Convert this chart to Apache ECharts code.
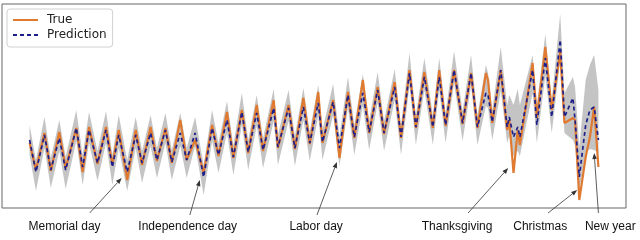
<!DOCTYPE html>
<html><head><meta charset="utf-8">
<script src="https://cdn.jsdelivr.net/npm/echarts@6/dist/echarts.min.js"></script>
<style>html,body{margin:0;padding:0;background:#fff}#c{width:640px;height:240px}</style>
</head><body><div id="c"></div>
<script>
// day index (0 = first day of the series) at each turning point
const days = [0,3,7,10,14,17,22,25,28,32, 36,39,42,46,50,53,57,60,64,67, 71,74,78,82,86,89,93,96,100,103, 107,110,115,117,122,125,129,132,136,138, 143,146,150,153,157,160,164,167,172,175, 179,182,186,190,193,196,200,204,208,211, 215,216,218,222,225,226,228,230,231,237, 239,243,246,250,252,256,257,259,262,264, 266,268];
const trueVals = [65,38,75,37,76,40,80,36,81,44, 81,43,78,28,78,43,81,47,80,45, 88,48,68,35,83,52,96,50,98,55, 103,57,108,60,103,59,110,64,116,65, 108,50,116,70,128,75,121,74,126,70, 138,80,136,80,138,82,138,84,135,80, 135,128,85,138,78,88,35,78,63,145, 90,161,98,156,85,90,88,8,51,71, 101,41];
const predVals = [68,36,73,38,70,38,80,41,78,45, 78,41,73,36,73,45,75,48,78,46, 75,48,75,31,80,53,88,51,96,56, 95,58,100,61,100,60,101,65,105,66, 106,60,113,71,115,76,118,75,121,71, 135,81,131,81,131,83,138,85,135,81, 115,113,86,138,81,91,71,81,71,138, 83,150,91,168,91,110,88,31,83,98, 101,68];
const bandHi = [83,48,91,50,88,51,98,53,96,57, 97,53,93,48,91,57,93,60,95,58, 95,60,91,43,98,65,107,63,115,68, 113,70,119,73,118,72,120,77,123,78, 124,72,131,83,134,88,136,87,139,83, 155,93,150,93,150,95,157,97,153,93, 143,135,98,161,103,113,103,119,103,153, 103,174,108,194,115,131,121,61,128,143, 153,118];
const bandLo = [53,17,60,20,57,19,67,23,65,27, 65,23,60,17,60,25,62,30,65,28, 62,30,62,13,67,35,75,33,83,38, 82,40,87,43,87,42,88,47,92,48, 93,42,100,53,102,58,105,57,108,53, 122,63,118,63,118,65,125,67,122,63, 102,100,68,117,65,72,52,57,52,115, 65,132,75,147,75,68,62,17,55,59, 58,55];
// holidays: label, day and value of the point the arrow marks
const holidayNames = ['Memorial day','Independence day','Labor day','Thanksgiving','Christmas','New year'];
const holidayDays = [43.4, 80.2, 144.8, 225.5, 258, 266];
const holidayVals = [30, 28, 46, 40, 18, 55];

const chart = echarts.init(document.getElementById('c'), null, {renderer:'canvas'});
chart.setOption({
  animation:false,
  backgroundColor:'#fff',
  grid:{left:2, right:14, top:4, bottom:32, show:true, borderColor:'#666', borderWidth:1, backgroundColor:'transparent'},
  xAxis:{type:'value', min:-13, max:281, show:false, splitLine:{show:false}},
  yAxis:{type:'value', min:0, max:204, show:false, splitLine:{show:false}},
  legend:{
    data:['True','Prediction'], orient:'vertical', left:7, top:9,
    itemWidth:25, itemHeight:14, itemGap:3, padding:[5,6,6,5],
    itemStyle:{opacity:0},
    backgroundColor:'rgba(255,255,255,0.9)', borderColor:'#d0d0d0', borderWidth:1, borderRadius:3,
    textStyle:{fontFamily:'DejaVu Sans', fontSize:12, color:'#222', padding:[0,0,0,4]}
  },
  series:[
    {type:'custom', name:'band', silent:true, z:1,
     data:[[days[0], bandLo[0]]], encode:{x:0,y:1},
     renderItem:function(params, api){
       const pts=[];
       for(let i=0;i<days.length;i++) pts.push(api.coord([days[i], bandHi[i]]));
       for(let i=days.length-1;i>=0;i--) pts.push(api.coord([days[i], bandLo[i]]));
       return {type:'polygon', shape:{points:pts}, style:{fill:'#c4c4c4'}};
     }},
    {type:'line', name:'True', z:2, symbol:'none', showSymbol:false,
     data:days.map((d,i)=>[d,trueVals[i]]),
     lineStyle:{color:'#e07a30', width:2.2}, itemStyle:{color:'#e07a30'}},
    {type:'line', name:'Prediction', z:3, symbol:'none', showSymbol:false,
     data:days.map((d,i)=>[d,predVals[i]]),
     lineStyle:{color:'#1e1e8a', width:1.7, type:[4,3]}, itemStyle:{color:'#1e1e8a'}}
  ]
});

// annotation layout: text centre (day, value) and arrow tail (day, value)
const textPos = [[16.5,-19],[74.5,-19],[135,-19],[201.4,-19],[240.6,-19],[273.6,-19]];
const tailPos = [[28.3,-5],[75.5,-7],[135.4,-7],[206.6,-5],[244.3,-5],[268,-5]];
const g=[];
holidayNames.forEach((name,i)=>{
  const tip = chart.convertToPixel({gridIndex:0},[holidayDays[i],holidayVals[i]]);
  const tail = chart.convertToPixel({gridIndex:0},tailPos[i]);
  const tp = chart.convertToPixel({gridIndex:0},textPos[i]);
  const dx=tip[0]-tail[0], dy=tip[1]-tail[1], L=Math.hypot(dx,dy);
  const ux=dx/L, uy=dy/L, nx=-uy, ny=ux;
  const bx=tip[0]-ux*6, by=tip[1]-uy*6;
  g.push({type:'line', silent:true, z:10, shape:{x1:tail[0],y1:tail[1],x2:bx,y2:by}, style:{stroke:'#333',lineWidth:0.8}});
  g.push({type:'polygon', silent:true, z:10, shape:{points:[[tip[0],tip[1]],[bx+nx*2.3,by+ny*2.3],[bx-nx*2.3,by-ny*2.3]]}, style:{fill:'#333'}});
  g.push({type:'text', silent:true, z:10, x:tp[0], y:tp[1], style:{text:name, fill:'#111', font:'12px "Liberation Sans", Arial, sans-serif', align:'center', verticalAlign:'middle'}});
});
chart.setOption({graphic:g});
</script></body></html>
